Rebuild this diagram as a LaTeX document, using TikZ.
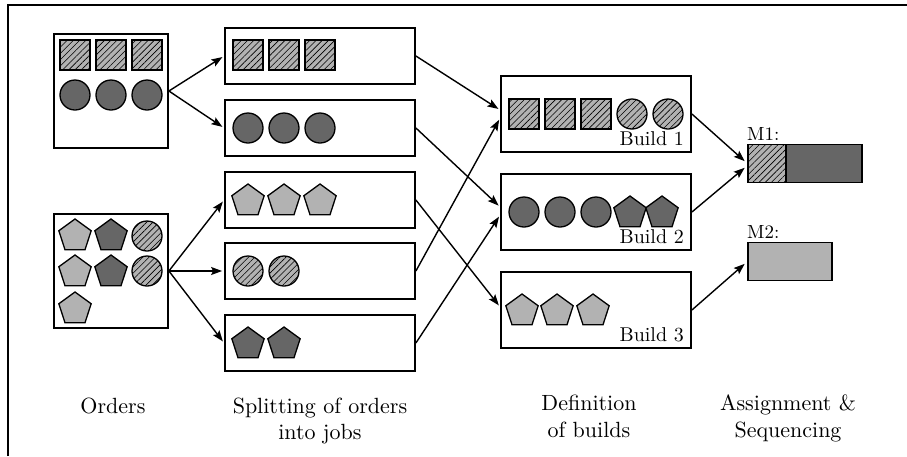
\documentclass[tikz,border=0pt]{standalone}
\usetikzlibrary{shapes.geometric,patterns.meta,arrows.meta,calc}
\definecolor{lgray}{gray}{0.70}
\definecolor{dgray}{gray}{0.40}
\newcommand{\bigtxt}[1]{\scalebox{2.2}{#1}}
\newcommand{\midtxt}[1]{\scalebox{2.0}{#1}}
\begin{document}
\begin{tikzpicture}[x=1pt,y=-1pt,
  frame/.style={draw, line width=1.8pt, inner sep=0pt},
  shp/.style={draw, line width=1.3pt, inner sep=0pt},
  hatch/.style={shp, fill=lgray, postaction={pattern={Lines[angle=45,distance=4.4pt,line width=0.6pt]}, pattern color=black}},
  sq/.style={hatch, rectangle, minimum size=30pt},
  hc/.style={hatch, circle, minimum size=30pt},
  dc/.style={shp, circle, fill=dgray, minimum size=30pt},
  lp/.style={shp, regular polygon, regular polygon sides=5, minimum size=34pt, fill=lgray},
  dp/.style={shp, regular polygon, regular polygon sides=5, minimum size=34pt, fill=dgray},
  arr/.style={-{Stealth[length=11pt,width=8pt,inset=2pt]}, line width=1.4pt, shorten >=2pt},
  blabel/.style={anchor=base east, inner sep=0pt},
  mlabel/.style={anchor=base west, inner sep=0pt},
  captext/.style={anchor=base, inner sep=0pt}
]
\useasboundingbox (0,0) rectangle (907,456);
% outer frame (top and left only)
\coordinate (fa) at (8,5);
\coordinate (fb) at (907,5);
\coordinate (fc) at (8,456);
\draw[line width=2pt] (fc) -- (fa) -- (fb);

% order boxes
\node[frame, minimum width=114pt, minimum height=114pt] (o1) at (111,91) {};
\node[frame, minimum width=114pt, minimum height=114pt] (o2) at (111,271) {};
\node[sq] (o1s1) at (75,55) {};
\node[sq] (o1s2) at (111,55) {};
\node[sq] (o1s3) at (147,55) {};
\node[dc] (o1c1) at (75,95) {};
\node[dc] (o1c2) at (111,95) {};
\node[dc] (o1c3) at (147,95) {};
\node[lp] (o2p1) at (75,236) {};
\node[dp] (o2p2) at (111,236) {};
\node[hc] (o2h1) at (147,236) {};
\node[lp] (o2p3) at (75,272) {};
\node[dp] (o2p4) at (111,272) {};
\node[hc] (o2h2) at (147,271) {};
\node[lp] (o2p5) at (75,309) {};

% job boxes
\node[frame, minimum width=190pt, minimum height=56pt] (j1) at (320,56) {};
\node[frame, minimum width=190pt, minimum height=56pt] (j2) at (320,128) {};
\node[frame, minimum width=190pt, minimum height=56pt] (j3) at (320,200) {};
\node[frame, minimum width=190pt, minimum height=56pt] (j4) at (320,271) {};
\node[frame, minimum width=190pt, minimum height=56pt] (j5) at (320,343) {};
\node[sq] (j1s1) at (248,55) {};
\node[sq] (j1s2) at (284,55) {};
\node[sq] (j1s3) at (320,55) {};
\node[dc] (j2c1) at (248,128) {};
\node[dc] (j2c2) at (284,128) {};
\node[dc] (j2c3) at (320,128) {};
\node[lp] (j3p1) at (248,201) {};
\node[lp] (j3p2) at (284,201) {};
\node[lp] (j3p3) at (320,201) {};
\node[hc] (j4h1) at (248,271) {};
\node[hc] (j4h2) at (284,271) {};
\node[dp] (j5p1) at (248,344) {};
\node[dp] (j5p2) at (284,344) {};

% build boxes
\node[frame, minimum width=190pt, minimum height=76pt] (b1) at (596,114) {};
\node[frame, minimum width=190pt, minimum height=76pt] (b2) at (596,212) {};
\node[frame, minimum width=190pt, minimum height=76pt] (b3) at (596,310) {};
\node[sq] (b1s1) at (524,114) {};
\node[sq] (b1s2) at (560,114) {};
\node[sq] (b1s3) at (596,114) {};
\node[hc] (b1h1) at (632,114) {};
\node[hc] (b1h2) at (668,114) {};
\node[dc] (b2c1) at (524,212) {};
\node[dc] (b2c2) at (560,212) {};
\node[dc] (b2c3) at (596,212) {};
\node[dp] (b2p1) at (630,213) {};
\node[dp] (b2p2) at (662,213) {};
\node[lp] (b3p1) at (522,311) {};
\node[lp] (b3p2) at (557,311) {};
\node[lp] (b3p3) at (593,311) {};
\node[blabel] (bl1) at (684,145) {\midtxt{Build 1}};
\node[blabel] (bl2) at (684,243) {\midtxt{Build 2}};
\node[blabel] (bl3) at (684,341) {\midtxt{Build 3}};

% machines
\node[shp, line width=1.6pt, rectangle, fill=lgray, minimum width=38pt, minimum height=38pt, postaction={pattern={Lines[angle=45,distance=4.4pt,line width=0.6pt]}, pattern color=black}] (m1a) at (767,163.5) {};
\node[shp, line width=1.6pt, rectangle, fill=dgray, minimum width=76pt, minimum height=38pt] (m1b) at (824,163.5) {};
\node[shp, line width=1.6pt, rectangle, fill=lgray, minimum width=84pt, minimum height=38pt] (m2) at (790,261.5) {};
\node[mlabel] (ml1) at (747,140) {\scalebox{1.9}{M1:}};
\node[mlabel] (ml2) at (747,238) {\scalebox{1.9}{M2:}};

% arrows: orders -> jobs
\draw[arr] (o1.east) -- (j1.west);
\draw[arr] (o1.east) -- (j2.west);
\draw[arr] (o2.east) -- (j3.west);
\draw[arr] (o2.east) -- (j4.west);
\draw[arr] (o2.east) -- (j5.west);
% jobs -> builds
\draw[arr] (j1.east) -- ($(b1.west)+(0,-4)$);
\draw[arr] (j4.east) -- ($(b1.west)+(0,4)$);
\draw[arr] (j2.east) -- ($(b2.west)+(0,-5)$);
\draw[arr] (j5.east) -- ($(b2.west)+(0,3)$);
\draw[arr] (j3.east) -- ($(b3.west)+(0,-3)$);
% builds -> machines
\draw[arr] (b1.east) -- ($(m1a.west)+(-1,-1)$);
\draw[arr] (b2.east) -- ($(m1a.west)+(-1,3)$);
\draw[arr] (b3.east) -- ($(m2.west)+(-1,1)$);

% captions
\node[captext] (t1) at (113,413) {\bigtxt{Orders}};
\node[captext] (t2) at (320,413) {\bigtxt{Splitting of orders}};
\node[captext] (t3) at (320,439) {\bigtxt{into jobs}};
\node[captext] (t4) at (589,410) {\bigtxt{Definition}};
\node[captext] (t5) at (589,437) {\bigtxt{of builds}};
\node[captext] (t6) at (788,410) {\bigtxt{Assignment \&}};
\node[captext] (t7) at (788,437) {\bigtxt{Sequencing}};
\end{tikzpicture}
\end{document}
